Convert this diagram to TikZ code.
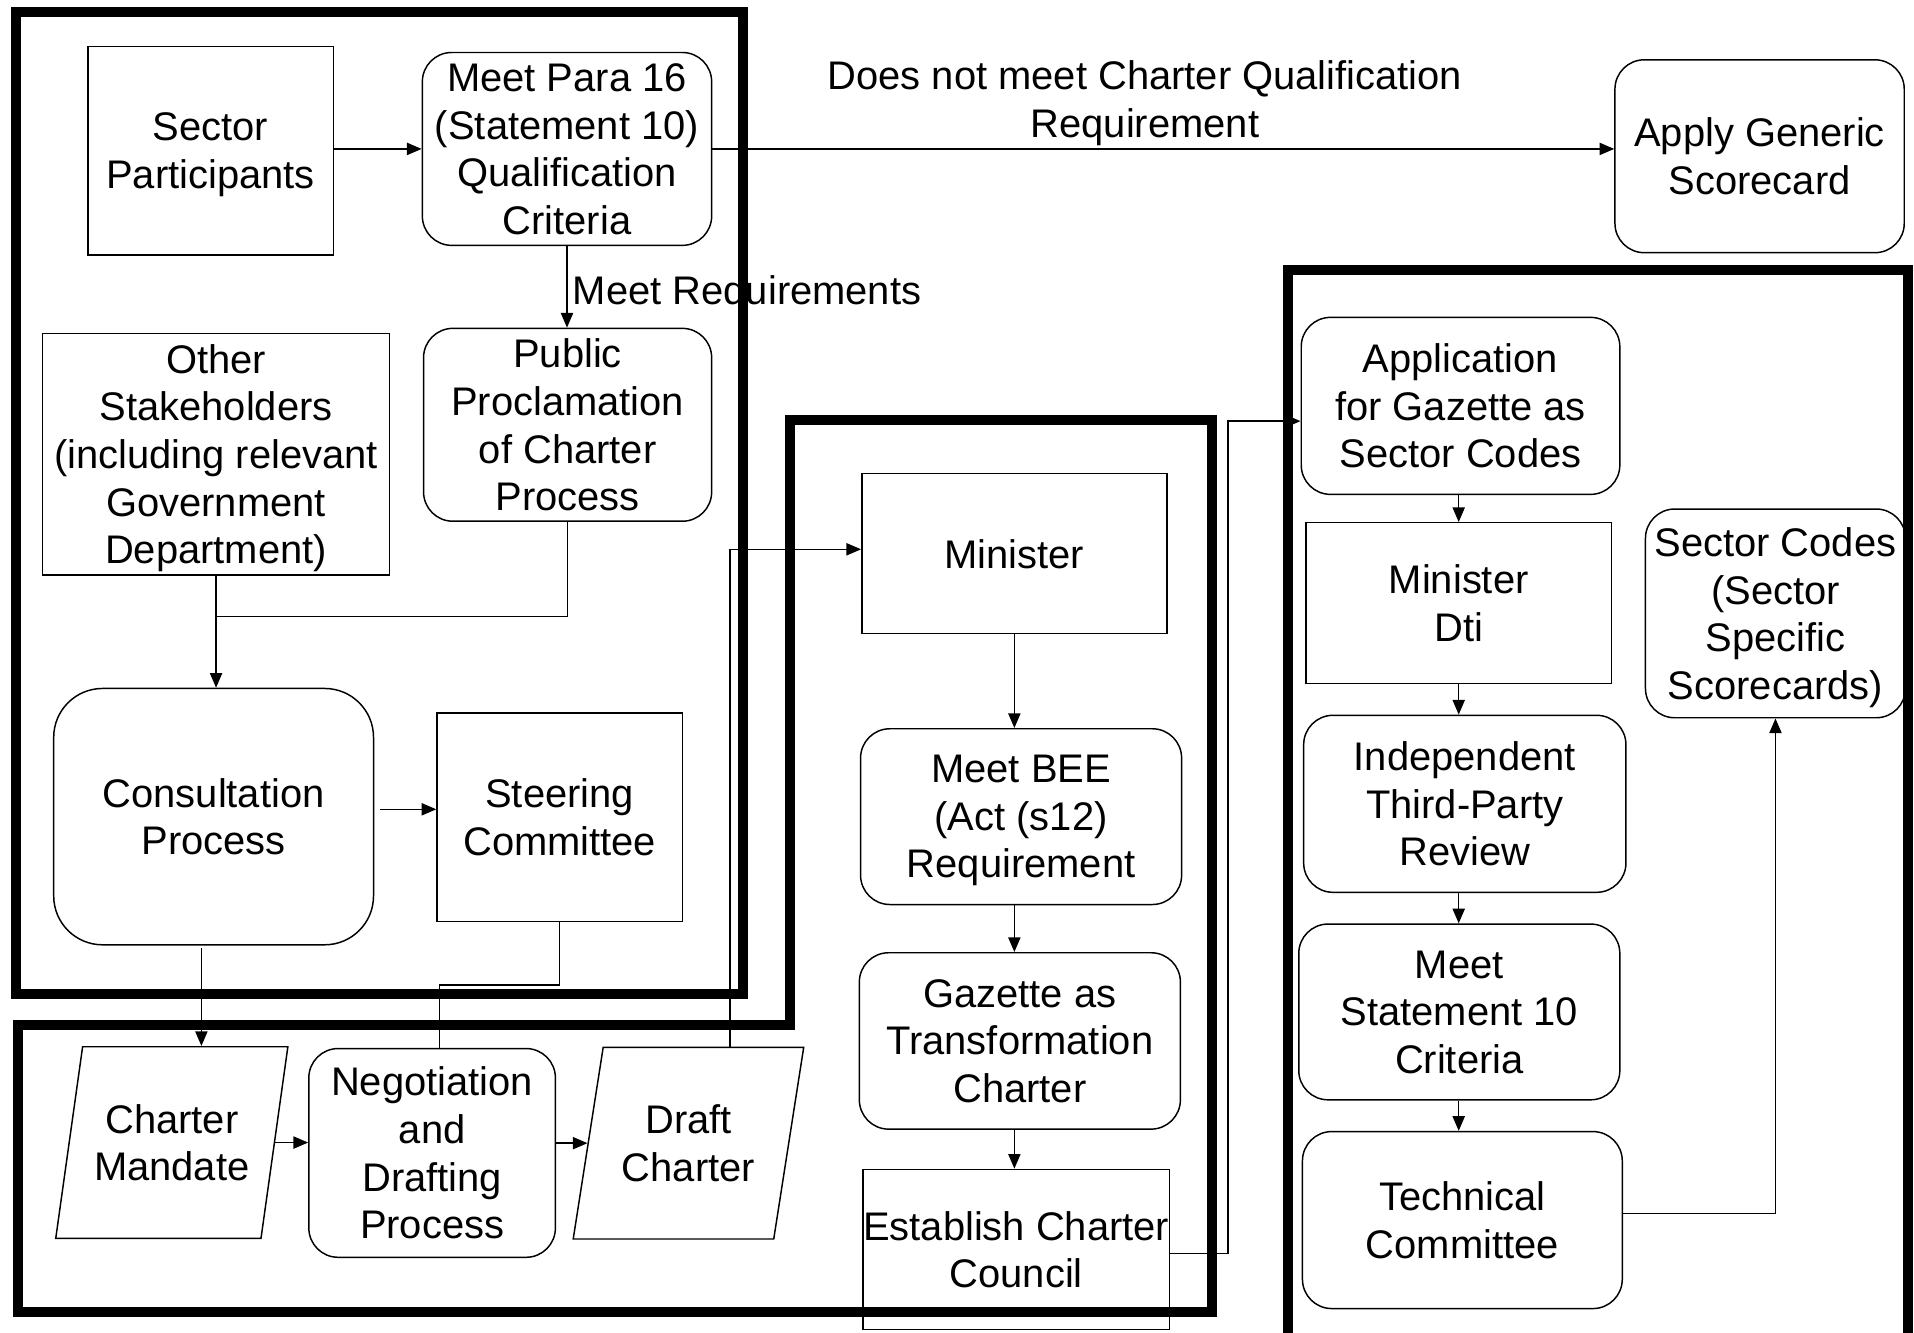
\documentclass[tikz,border=0pt]{standalone}
\usepackage{fontspec}
\setmainfont{Liberation Sans}
\usetikzlibrary{shapes.geometric,arrows.meta}

\begin{document}
\begin{tikzpicture}
[
    x=0.5pt, y=-0.5pt,
    every node/.style={font=\fontsize{16.35}{19.5}\selectfont, align=center, inner sep=0pt, text depth=0pt},
    box/.style={draw, line width=0.6pt},
    rbox/.style={box, rounded corners=12pt},
    iobox/.style={box, trapezium, trapezium left angle=73, trapezium right angle=107, trapezium stretches=true},
    link/.style={line width=0.6pt},
    flow/.style={link, -{Triangle[length=6pt,width=5pt]}},
    zone/.style={line width=4pt}
]
    \useasboundingbox (0,0) rectangle (1568,1092);

    % boundaries
    \draw[zone] (13,10) rectangle (608.5,814);
    \draw[zone] (647,344) -- (993,344) -- (993,1075) -- (15,1075) -- (15,840) -- (647,840) -- cycle;
    \draw[zone] (1055,1092) -- (1055,221) -- (1563,221) -- (1563,1092);

    % qualification
    \node[box, minimum width=100.5pt, minimum height=85.5pt] (sector) at (172.5,123.5) {Sector\\Participants};
    \node[rbox, minimum width=118.5pt, minimum height=79pt] (para) at (464.5,122) {Meet Para 16\\(Statement 10)\\Qualification\\Criteria};
    \node[box, minimum width=142pt, minimum height=99pt] (other) at (177,372) {Other\\Stakeholders\\(including relevant\\Government\\Department)};
    \node[rbox, minimum width=118pt, minimum height=79pt] (procl) at (465,348) {Public\\Proclamation\\of Charter\\Process};
    \node[rbox, rounded corners=20pt, minimum width=131pt, minimum height=105pt] (consult) at (175,669) {Consultation\\Process};
    \node[box, minimum width=100.5pt, minimum height=85.5pt] (steer) at (458.5,669.5) {Steering\\Committee};
    \node[rbox, minimum width=118.5pt, minimum height=79pt] (apply) at (1441.5,128) {Apply Generic\\Scorecard};

    % drafting
    \node[iobox, minimum width=95.75pt, minimum height=78.5pt] (mandate) at (140.75,936) {Charter\\Mandate};
    \node[rbox, minimum width=101pt, minimum height=85.5pt] (negot) at (354,944.5) {Negotiation\\and\\Drafting\\Process};
    \node[iobox, minimum width=95pt, minimum height=78.5pt] (draft) at (564,936.5) {Draft\\Charter};

    % charter
    \node[box, minimum width=125pt, minimum height=65.5pt] (minister) at (831,453.5) {Minister};
    \node[rbox, minimum width=131.5pt, minimum height=72pt] (bee) at (836.5,669) {Meet BEE\\(Act (s12)\\Requirement};
    \node[rbox, minimum width=131.5pt, minimum height=72.25pt] (gazette) at (835.5,852.75) {Gazette as\\Transformation\\Charter};
    \node[box, minimum width=125.5pt, minimum height=65.5pt] (council) at (832.5,1023.5) {Establish Charter\\Council};

    % sector codes
    \node[rbox, minimum width=130.5pt, minimum height=72.5pt] (appl) at (1196.5,332.5) {Application\\for Gazette as\\Sector Codes};
    \node[box, minimum width=125pt, minimum height=65.75pt] (mindti) at (1195,494) {Minister\\Dti};
    \node[rbox, minimum width=132pt, minimum height=72.5pt] (review) at (1200,658.5) {Independent\\Third-Party\\Review};
    \node[rbox, minimum width=131.5pt, minimum height=72pt] (stmt) at (1195.5,829) {Meet\\Statement 10\\Criteria};
    \node[rbox, minimum width=131pt, minimum height=72.5pt] (tech) at (1198,999.5) {Technical\\Committee};
    \node[rbox, minimum width=106.5pt, minimum height=85.5pt] (codes) at (1454.5,502.5) {Sector Codes\\(Sector\\Specific\\Scorecards)};

    % labels
    \node (nomeet) at (938,81) {Does not meet Charter Qualification\\Requirement};
    \node[anchor=west] (meetreq) at (469,238) {Meet Requirements};

    % connectors
    \draw[flow] (sector.east |- para.west) -- (para.west);
    \draw[flow] (para.east) -- (para.east -| apply.west);
    \draw[flow] (para.south) -- (para.south |- procl.north);
    \coordinate (join) at (177,505);
    \draw[link] (procl.south) |- (join);
    \draw[flow] (other.south) -- (other.south |- consult.north);
    \coordinate (cs) at (311,663);
    \draw[flow] (cs) -- (cs -| steer.west);
    \coordinate (cm) at (165,777);
    \draw[flow] (cm) -- (cm |- mandate.north);
    \coordinate (sn) at (360,807);
    \draw[link] (steer.south) |- (sn) -- (sn |- negot.north);
    \draw[flow] (mandate.east) -- (mandate.east -| negot.west);
    \draw[flow] (negot.east |- draft.west) -- (draft.west);
    \coordinate (dt) at (598,858);
    \draw[flow] (dt) |- ([yshift=1.75pt]minister.west);
    \draw[flow] (minister.south) -- (minister.south |- bee.north);
    \draw[flow] (bee.south -| minister) -- (gazette.north -| minister);
    \draw[flow] (gazette.south -| minister) -- (council.north -| minister);
    \coordinate (cr) at (1006,1027);
    \draw[flow] (council.east |- cr) -- (cr) |- ([yshift=-6.25pt]appl.west);
    \draw[flow] (appl.south -| mindti) -- (mindti.north);
    \draw[flow] (mindti.south) -- (mindti.south |- review.north);
    \draw[flow] (review.south -| mindti) -- (stmt.north -| mindti);
    \draw[flow] (stmt.south -| mindti) -- (tech.north -| mindti);
    \draw[flow] ([yshift=2.75pt]tech.east) -| (codes.south);
\end{tikzpicture}
\end{document}
